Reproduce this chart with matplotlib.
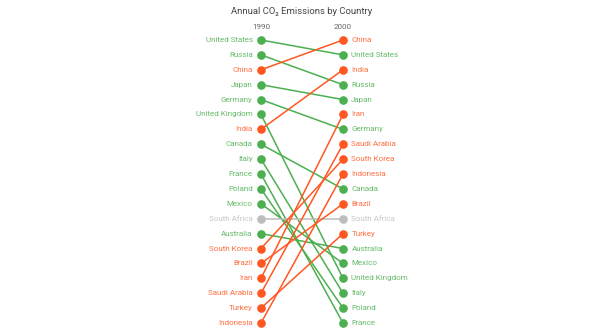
import matplotlib as mpl
mpl.use('Agg')
from matplotlib import pyplot as plt

rank_1990 = ['United States', 'Russia', 'China', 'Japan', 'Germany',
             'United Kingdom', 'India', 'Canada', 'Italy', 'France',
             'Poland', 'Mexico', 'South Africa', 'Australia', 'South Korea',
             'Brazil', 'Iran', 'Saudi Arabia', 'Turkey', 'Indonesia']
rank_2000 = ['China', 'United States', 'India', 'Russia', 'Japan',
             'Iran', 'Germany', 'Saudi Arabia', 'South Korea', 'Indonesia',
             'Canada', 'Brazil', 'South Africa', 'Turkey', 'Australia',
             'Mexico', 'United Kingdom', 'Italy', 'Poland', 'France']
years = ['1990', '2000']

GREEN = '#4CAF50'
ORANGE = '#FF5722'
GREY = '#BDBDBD'
plt.rcParams['font.family'] = ['Roboto', 'DejaVu Sans']

fig = plt.figure(figsize=(6.04, 3.32), dpi=100)
ax = fig.add_axes([0, 0, 1, 1])
ax.axis('off')

# x: 0 -> 1990 column, 1 -> 2000 column; y: rank
ax.set_xlim(-3.183, 4.183)
ax.set_ylim(20.604, -1.685)

def colour_for(name):
    a = rank_1990.index(name)
    b = rank_2000.index(name)
    if b < a:
        return ORANGE
    if b > a:
        return GREEN
    return GREY

for name in rank_1990:
    r0 = rank_1990.index(name) + 1
    r1 = rank_2000.index(name) + 1
    c = colour_for(name)
    ax.plot([0, 1], [r0, r1], color=c, lw=1.1, marker='o', ms=5.2, zorder=2)
    ax.annotate(name, (0, r0), xytext=(-6, 0), textcoords='offset points',
                ha='right', va='center', fontsize=5.8, color=c, alpha=0.85)
    ax.annotate(name, (1, r1), xytext=(6, 0), textcoords='offset points',
                ha='left', va='center', fontsize=5.8, color=c, alpha=0.85)

for i, y in enumerate(years):
    ax.annotate(y, (i, 1), xytext=(0, 9.5), textcoords='offset points',
                ha='center', va='center', fontsize=5.8, color='#666666')

fig.text(0.5, 1 - 12 / 332, 'Annual CO₂ Emissions by Country', ha='center',
         va='center', fontsize=6.8, color='#444444')

plt.savefig('out.png', dpi=100)
